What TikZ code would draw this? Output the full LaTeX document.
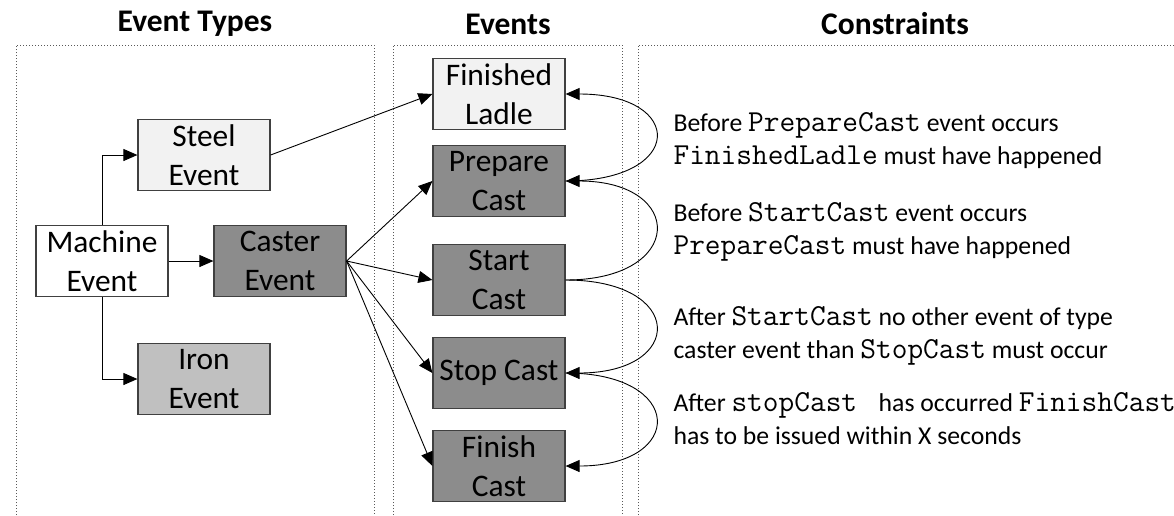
\documentclass[tikz,border=0pt]{standalone}
\usepackage{fontspec}
\setmainfont{Carlito}
\usetikzlibrary{arrows.meta,positioning}
\definecolor{boxline}{HTML}{404040}
\definecolor{lightfill}{HTML}{F2F2F2}
\definecolor{midfill}{HTML}{C0C0C0}
\definecolor{darkfill}{HTML}{8C8C8C}
\newcommand{\code}[1]{{\fontsize{30.5}{33}\selectfont\ttfamily #1}}
\tikzstyle{eventblock}=[rectangle, draw=boxline, line width=1.2pt, align=center, minimum width=132pt, minimum height=71pt, inner sep=0pt, font=\fontsize{31.4}{38.5}\selectfont]
\tikzstyle{whiteblock}=[eventblock, fill=white]
\tikzstyle{lightblock}=[eventblock, fill=lightfill]
\tikzstyle{greyblock}=[eventblock, fill=midfill]
\tikzstyle{darkblock}=[eventblock, fill=darkfill]
\tikzstyle{panel}=[draw=black!65, line width=1pt, dash pattern=on 1pt off 2pt]
\tikzstyle{link}=[-{Triangle[length=14pt,width=12pt]}, line width=0.9pt]
\tikzstyle{rule}=[anchor=west, align=left, font=\fontsize{25.7}{33}\selectfont]
\tikzstyle{heading}=[font=\fontsize{31.5}{36}\selectfont\bfseries]

\begin{document}
\begin{tikzpicture}[x=1pt,y=-1pt]
\useasboundingbox (0,0) rectangle (1174,515);

% the three columns
\draw[panel] (16,515) |- (374,45) -- (374,515);
\draw[panel] (393,515) |- (622,45) -- (622,515);
\draw[panel] (638,515) |- (1174,45);

\node[heading](h1) at (195,24) {Event Types};
\node[heading](h2) at (508,24) {Events};
\node[heading](h3) at (895,24) {Constraints};

% event types
\node[whiteblock](machine) at (102,261) {Machine\\Event};
\node[lightblock](steel) at (204,155) {Steel\\Event};
\node[darkblock](caster) at (280,261) {Caster\\Event};
\node[greyblock](iron) at (204,379) {Iron\\Event};

% events
\node[lightblock](ladle) at (499,94) {Finished\\Ladle};
\node[darkblock](prep) at (499,181) {Prepare\\Cast};
\node[darkblock](start) at (499,280) {Start\\Cast};
\node[darkblock](stop) at (499,373) {Stop Cast};
\node[darkblock](finish) at (499,466) {Finish\\Cast};

% constraints
\node[rule](c1) at (670,141) {Before \code{PrepareCast} event occurs\\\code{FinishedLadle} must have happened};
\node[rule](c2) at (670,232) {Before \code{StartCast} event occurs\\\code{PrepareCast} must have happened};
\node[rule](c3) at (670,336) {After \code{StartCast} no other event of type\\caster event than \code{StopCast} must occur};
\node[rule](c4) at (670,419) {After \code{stopCast\ } has occurred \code{FinishCast}\\has to be issued within X seconds};

\draw[link](machine.north) |- (steel.west);
\draw[link](machine.south) |- (iron.west);
\draw[link](machine.east) -- (caster.west);
\draw[link](steel.east) -- (ladle.west);
\draw[link](caster.east) -- (prep.west);
\draw[link](caster.east) -- (start.west);
\draw[link](caster.east) -- (stop.west);
\draw[link](caster.east) -- (finish.west);

\draw[link](prep.east) to[out=0,in=0,distance=120pt] (ladle.east);
\draw[link](start.east) to[out=0,in=0,distance=120pt] (prep.east);
\draw[link](start.east) to[out=0,in=0,distance=120pt] (stop.east);
\draw[link](stop.east) to[out=0,in=0,distance=120pt] (finish.east);

\end{tikzpicture}
\end{document}
